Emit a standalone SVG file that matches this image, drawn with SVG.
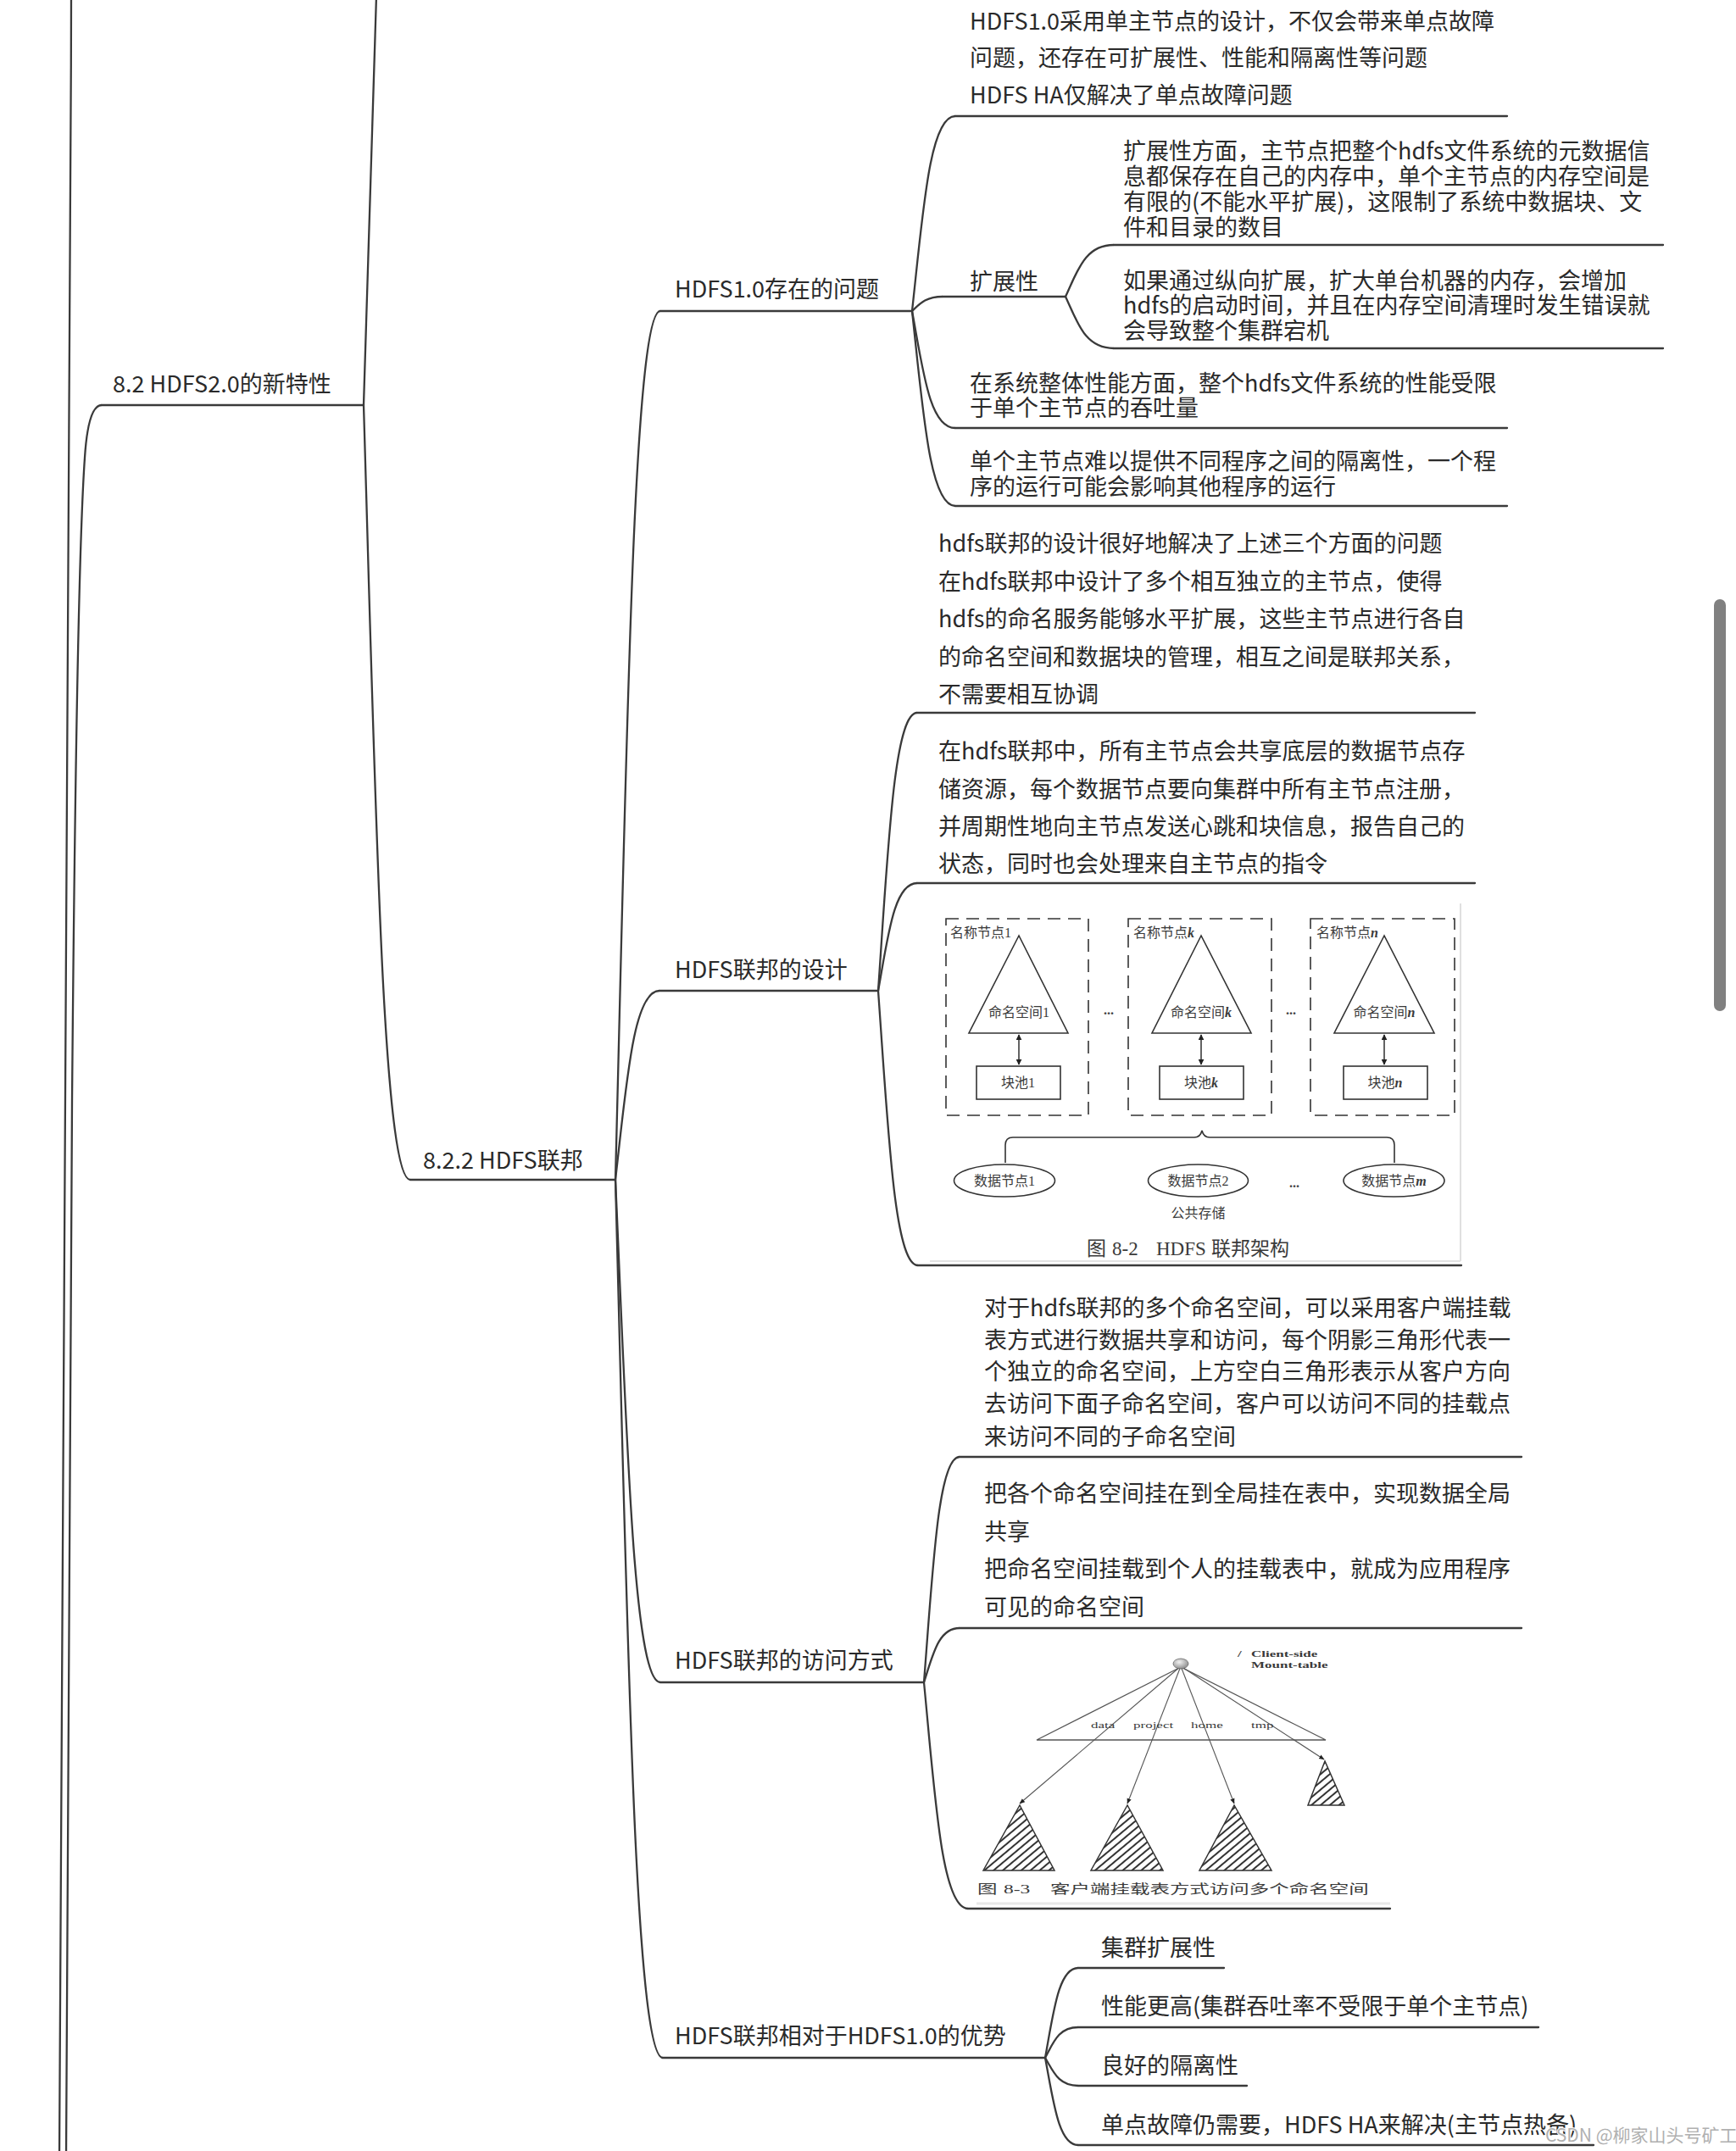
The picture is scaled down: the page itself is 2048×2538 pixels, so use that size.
<svg xmlns="http://www.w3.org/2000/svg" width="2048" height="2538" viewBox="0 0 2048 2538">
<defs>
<style>
.t{font-family:"Noto Sans CJK SC","Noto Sans",sans-serif;font-size:27px;fill:#2a2a2a}
.ul{stroke:#3a3a3a;stroke-width:2.3;fill:none;stroke-linecap:round}
.cn{stroke:#3a3a3a;stroke-width:2.3;fill:none}
.f{font-family:"Liberation Serif","Noto Sans CJK SC",serif;fill:#3a3a3a}
.fs{font-size:16px}
.fl{stroke:#333;stroke-width:1.6;fill:#fff}
.dash{stroke:#333;stroke-width:1.6;fill:none;stroke-dasharray:15 9}
.thin{stroke:#555;stroke-width:1.1;fill:none}
.it{font-style:italic;font-weight:bold}
</style>
<marker id="ah" viewBox="0 0 10 10" refX="9" refY="5" markerWidth="5" markerHeight="5" orient="auto-start-reverse"><path d="M0,0 L10,5 L0,10 z" fill="#222"/></marker>
<marker id="ah2" viewBox="0 0 10 10" refX="9" refY="5" markerWidth="6" markerHeight="6" orient="auto"><path d="M0,1 L10,5 L0,9 z" fill="#222"/></marker>
<pattern id="hatch" width="7" height="7" patternUnits="userSpaceOnUse" patternTransform="rotate(-40)"><rect width="7" height="2" fill="#333"/></pattern>
<radialGradient id="sph" cx="0.4" cy="0.35" r="0.7"><stop offset="0" stop-color="#f2f2f2"/><stop offset="1" stop-color="#888"/></radialGradient>
</defs>
<rect width="2048" height="2538" fill="#fff"/>

<g id="connectors">
<path class="cn" d="M84,-5 C82,800 78,1600 70,2545"/>
<path class="cn" d="M78,2545 C80,1900 82,1500 85,1300 C88,950 93,640 100,540 Q104,478 120,478"/>
<path class="cn" d="M429,478 L444,-5"/>
<path class="cn" d="M429,478 C442.75,935 451,1392 484,1392"/>
<path class="cn" d="M726,1392 C739.25,879.5 747.2,367 779,367"/>
<path class="cn" d="M726,1392 C739,1280.5 746.8,1169 778,1169"/>
<path class="cn" d="M726,1392 C739.25,1688.5 747.2,1985 779,1985"/>
<path class="cn" d="M726,1392 C740,1910 748.4,2428 782,2428"/>
<path class="cn" d="M1076,367 C1088.75,252 1096.4,137 1127,137"/>
<path class="cn" d="M1076,367 C1085,358.5 1092,350 1112,350"/>
<path class="cn" d="M1076,367 C1088.75,436 1096.4,505 1127,505"/>
<path class="cn" d="M1076,367 C1088.75,482 1096.4,597 1127,597"/>
<path class="cn" d="M1257,350 C1271.25,319.5 1279.8,289 1314,289"/>
<path class="cn" d="M1257,350 C1271.25,380.5 1279.8,411 1314,411"/>
<path class="cn" d="M1036,1169 C1047.5,1005 1054.4,841 1082,841"/>
<path class="cn" d="M1036,1169 C1047.5,1105.5 1054.4,1042 1082,1042"/>
<path class="cn" d="M1036,1169 C1047.75,1331 1054.8,1493 1083,1493"/>
<path class="cn" d="M1090,1985 C1100.5,1852 1106.8,1719 1132,1719"/>
<path class="cn" d="M1090,1985 C1100.5,1953 1106.8,1921 1132,1921"/>
<path class="cn" d="M1090,1985 C1103,2118.5 1110.8,2252 1142,2252"/>
<path class="cn" d="M1233,2428 C1242.75,2375 1248.6,2322 1272,2322"/>
<path class="cn" d="M1233,2428 C1242.75,2410 1248.6,2392 1272,2392"/>
<path class="cn" d="M1233,2428 C1242.75,2444.5 1248.6,2461 1272,2461"/>
<path class="cn" d="M1233,2428 C1242.75,2479.5 1248.6,2531 1272,2531"/>
</g>

<g id="n-hdfs2">
<text class="t" x="133" y="463">8.2 HDFS2.0的新特性</text>
<path class="ul" d="M120,478 H429"/>
</g>

<g id="n-federation">
<text class="t" x="499" y="1379">8.2.2 HDFS联邦</text>
<path class="ul" d="M484,1392 H726"/>
</g>

<g id="n-problems">
<text class="t" x="796" y="351">HDFS1.0存在的问题</text>
<path class="ul" d="M779,367 H1076"/>
</g>

<g id="n-problems-intro">
<text class="t"><tspan x="1144" y="35">HDFS1.0采用单主节点的设计，不仅会带来单点故障</tspan><tspan x="1144" y="78">问题，还存在可扩展性、性能和隔离性等问题</tspan><tspan x="1144" y="122">HDFS HA仅解决了单点故障问题</tspan></text>
<path class="ul" d="M1127,137 H1778"/>
</g>

<g id="n-scalability">
<text class="t" x="1144" y="342">扩展性</text>
<path class="ul" d="M1112,350 H1257"/>
</g>

<g id="n-scal-1">
<text class="t"><tspan x="1325" y="188">扩展性方面，主节点把整个hdfs文件系统的元数据信</tspan><tspan x="1325" y="218">息都保存在自己的内存中，单个主节点的内存空间是</tspan><tspan x="1325" y="248">有限的(不能水平扩展)，这限制了系统中数据块、文</tspan><tspan x="1325" y="278">件和目录的数目</tspan></text>
<path class="ul" d="M1314,289 H1962"/>
</g>

<g id="n-scal-2">
<text class="t"><tspan x="1325" y="341">如果通过纵向扩展，扩大单台机器的内存，会增加</tspan><tspan x="1325" y="370">hdfs的启动时间，并且在内存空间清理时发生错误就</tspan><tspan x="1325" y="400">会导致整个集群宕机</tspan></text>
<path class="ul" d="M1314,411 H1962"/>
</g>

<g id="n-performance">
<text class="t"><tspan x="1144" y="462">在系统整体性能方面，整个hdfs文件系统的性能受限</tspan><tspan x="1144" y="491">于单个主节点的吞吐量</tspan></text>
<path class="ul" d="M1127,505 H1778"/>
</g>

<g id="n-isolation">
<text class="t"><tspan x="1144" y="554">单个主节点难以提供不同程序之间的隔离性，一个程</tspan><tspan x="1144" y="584">序的运行可能会影响其他程序的运行</tspan></text>
<path class="ul" d="M1127,597 H1778"/>
</g>

<g id="n-design">
<text class="t" x="796" y="1154">HDFS联邦的设计</text>
<path class="ul" d="M778,1169 H1036"/>
</g>

<g id="n-design-1">
<text class="t"><tspan x="1107" y="651">hdfs联邦的设计很好地解决了上述三个方面的问题</tspan><tspan x="1107" y="696">在hdfs联邦中设计了多个相互独立的主节点，使得</tspan><tspan x="1107" y="740">hdfs的命名服务能够水平扩展，这些主节点进行各自</tspan><tspan x="1107" y="785">的命名空间和数据块的管理，相互之间是联邦关系，</tspan><tspan x="1107" y="829">不需要相互协调</tspan></text>
<path class="ul" d="M1082,841 H1740"/>
</g>

<g id="n-design-2">
<text class="t"><tspan x="1107" y="896">在hdfs联邦中，所有主节点会共享底层的数据节点存</tspan><tspan x="1107" y="941">储资源，每个数据节点要向集群中所有主节点注册，</tspan><tspan x="1107" y="985">并周期性地向主节点发送心跳和块信息，报告自己的</tspan><tspan x="1107" y="1029">状态，同时也会处理来自主节点的指令</tspan></text>
<path class="ul" d="M1082,1042 H1740"/>
</g>

<g id="n-fig82">
<line x1="1723" y1="1066" x2="1723" y2="1488" stroke="#d6d6d6" stroke-width="1.5"/>
<line x1="1097" y1="1488" x2="1723" y2="1488" stroke="#e2e2e2" stroke-width="2"/>
<rect class="dash" x="1116" y="1084" width="168" height="232"/>
<rect class="dash" x="1331" y="1084" width="169" height="232"/>
<rect class="dash" x="1546" y="1084" width="170" height="232"/>
<text class="f fs" x="1121" y="1106">名称节点1</text>
<text class="f fs" x="1337" y="1106">名称节点<tspan class="it">k</tspan></text>
<text class="f fs" x="1553" y="1106">名称节点<tspan class="it">n</tspan></text>
<polygon class="fl" points="1202,1104 1143,1219 1260,1219"/>
<polygon class="fl" points="1417,1104 1359,1219 1476,1219"/>
<polygon class="fl" points="1633,1104 1574,1219 1692,1219"/>
<text class="f fs" x="1202" y="1200" text-anchor="middle">命名空间1</text>
<text class="f fs" x="1417" y="1200" text-anchor="middle">命名空间<tspan class="it">k</tspan></text>
<text class="f fs" x="1633" y="1200" text-anchor="middle">命名空间<tspan class="it">n</tspan></text>
<line x1="1202" y1="1221" x2="1202" y2="1256" stroke="#222" stroke-width="1.4" marker-start="url(#ah)" marker-end="url(#ah)"/>
<line x1="1417" y1="1221" x2="1417" y2="1256" stroke="#222" stroke-width="1.4" marker-start="url(#ah)" marker-end="url(#ah)"/>
<line x1="1633" y1="1221" x2="1633" y2="1256" stroke="#222" stroke-width="1.4" marker-start="url(#ah)" marker-end="url(#ah)"/>
<rect class="fl" x="1152" y="1258" width="99" height="39"/>
<rect class="fl" x="1368" y="1258" width="99" height="39"/>
<rect class="fl" x="1585" y="1258" width="99" height="39"/>
<text class="f fs" x="1201" y="1283" text-anchor="middle">块池1</text>
<text class="f fs" x="1417" y="1283" text-anchor="middle">块池<tspan class="it">k</tspan></text>
<text class="f fs" x="1634" y="1283" text-anchor="middle">块池<tspan class="it">n</tspan></text>
<text class="f fs" x="1308" y="1197" text-anchor="middle" font-weight="bold">...</text>
<text class="f fs" x="1523" y="1197" text-anchor="middle" font-weight="bold">...</text>
<path d="M1186,1372 V1351 Q1186,1342 1195,1342 H1409 Q1416,1342 1418,1334 Q1420,1342 1427,1342 H1636 Q1645,1342 1645,1351 V1372" stroke="#333" stroke-width="1.6" fill="none"/>
<ellipse class="fl" cx="1185" cy="1393" rx="59.5" ry="19"/>
<ellipse class="fl" cx="1413.5" cy="1393" rx="59" ry="19"/>
<ellipse class="fl" cx="1644.5" cy="1393" rx="59.5" ry="19"/>
<text class="f fs" x="1185" y="1399" text-anchor="middle">数据节点1</text>
<text class="f fs" x="1413.5" y="1399" text-anchor="middle">数据节点2</text>
<text class="f fs" x="1644.5" y="1399" text-anchor="middle">数据节点<tspan class="it">m</tspan></text>
<text class="f fs" x="1527" y="1401" text-anchor="middle" font-weight="bold">...</text>
<text class="f fs" x="1413.5" y="1437" text-anchor="middle" fill="#555">公共存储</text>
<text class="f" font-size="23" x="1282" y="1481">图<tspan x="1312">8-2</tspan><tspan x="1364">HDFS</tspan><tspan x="1429">联邦架构</tspan></text>
<path class="ul" d="M1083,1493 H1724"/>
</g>

<g id="n-access">
<text class="t" x="796" y="1969">HDFS联邦的访问方式</text>
<path class="ul" d="M779,1985 H1090"/>
</g>

<g id="n-access-1">
<text class="t"><tspan x="1161" y="1553">对于hdfs联邦的多个命名空间，可以采用客户端挂载</tspan><tspan x="1161" y="1591">表方式进行数据共享和访问，每个阴影三角形代表一</tspan><tspan x="1161" y="1628">个独立的命名空间，上方空白三角形表示从客户方向</tspan><tspan x="1161" y="1666">去访问下面子命名空间，客户可以访问不同的挂载点</tspan><tspan x="1161" y="1705">来访问不同的子命名空间</tspan></text>
<path class="ul" d="M1132,1719 H1795"/>
</g>

<g id="n-access-2">
<text class="t"><tspan x="1161" y="1772">把各个命名空间挂在到全局挂在表中，实现数据全局</tspan><tspan x="1161" y="1817">共享</tspan><tspan x="1161" y="1861">把命名空间挂载到个人的挂载表中，就成为应用程序</tspan><tspan x="1161" y="1906">可见的命名空间</tspan></text>
<path class="ul" d="M1132,1921 H1795"/>
</g>

<g id="n-fig83">
<polygon points="1393,1967 1223,2053 1564,2053" fill="none" stroke="#555" stroke-width="1.3"/>
<line class="thin" x1="1393" y1="1966" x2="1203" y2="2128" marker-end="url(#ah2)"/>
<line class="thin" x1="1393" y1="1966" x2="1330" y2="2128" marker-end="url(#ah2)"/>
<line class="thin" x1="1393" y1="1966" x2="1456" y2="2128" marker-end="url(#ah2)"/>
<line class="thin" x1="1393" y1="1966" x2="1562" y2="2076" marker-end="url(#ah2)"/>
<ellipse cx="1393" cy="1963" rx="9" ry="6" fill="url(#sph)" stroke="#666" stroke-width="0.8"/>
<g transform="translate(0,1955) scale(1,0.63)"><text class="f" font-size="17" font-weight="bold" fill="#333"><tspan x="1460">/</tspan><tspan x="1476">Client-side</tspan></text></g>
<g transform="translate(0,1968) scale(1,0.63)"><text class="f" font-size="17" font-weight="bold" fill="#333" x="1476">Mount-table</text></g>
<g transform="translate(0,2039) scale(1,0.63)"><text class="f" font-size="17" fill="#333"><tspan x="1287">data</tspan><tspan x="1337">project</tspan><tspan x="1405">home</tspan><tspan x="1476">tmp</tspan></text></g>
<polygon points="1203,2130 1160,2207 1244,2207" fill="url(#hatch)" stroke="#333" stroke-width="1.5"/>
<polygon points="1330,2130 1287,2207 1372,2207" fill="url(#hatch)" stroke="#333" stroke-width="1.5"/>
<polygon points="1456,2130 1415,2207 1500,2207" fill="url(#hatch)" stroke="#333" stroke-width="1.5"/>
<polygon points="1563,2078 1543,2130 1586,2130" fill="url(#hatch)" stroke="#333" stroke-width="1.5"/>
<g transform="translate(0,2234) scale(1,0.63)"><text class="f" font-size="23.5" fill="#444"><tspan x="1153">图</tspan><tspan x="1184">8-3</tspan><tspan x="1239">客户端挂载表方式访问多个命名空间</tspan></text></g>
<line x1="1152" y1="2246" x2="1640" y2="2246" stroke="#e8e8e8" stroke-width="3"/>
<path class="ul" d="M1142,2252 H1640"/>
</g>

<g id="n-advantages">
<text class="t" x="796" y="2412">HDFS联邦相对于HDFS1.0的优势</text>
<path class="ul" d="M782,2428 H1233"/>
</g>

<g id="n-adv-1">
<text class="t" x="1299" y="2308">集群扩展性</text>
<path class="ul" d="M1272,2322 H1444"/>
</g>
<g id="n-adv-2">
<text class="t" x="1299" y="2377">性能更高(集群吞吐率不受限于单个主节点)</text>
<path class="ul" d="M1272,2392 H1815"/>
</g>
<g id="n-adv-3">
<text class="t" x="1299" y="2447">良好的隔离性</text>
<path class="ul" d="M1272,2461 H1471"/>
</g>
<g id="n-adv-4">
<text class="t" x="1299" y="2517">单点故障仍需要，HDFS HA来解决(主节点热备)</text>
<path class="ul" d="M1272,2531 H1880"/>
</g>

<rect x="2022" y="707" width="14" height="486" rx="7" fill="#808080"/>
<text x="1823" y="2527" font-family="'Noto Sans CJK SC','Noto Sans',sans-serif" font-size="21" fill="#b0b0b0" stroke="#fff" stroke-width="2" paint-order="stroke">CSDN @柳家山头号矿工</text>
</svg>
